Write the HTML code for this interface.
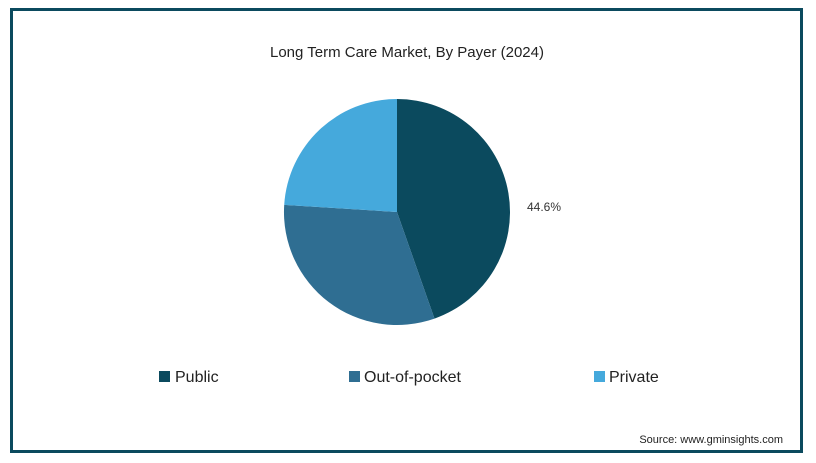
<!DOCTYPE html>
<html><head><style>
body{margin:0;background:#fff;}
svg{display:block;font-family:"Liberation Sans",sans-serif;}
</style></head><body>
<svg width="816" height="463" viewBox="0 0 816 463">
<rect x="11.5" y="9.5" width="790" height="442" fill="#fff" stroke="#0b4a5e" stroke-width="3"/>
<text x="407" y="57" font-size="15" text-anchor="middle" fill="#222">Long Term Care Market, By Payer (2024)</text>
<!-- Public 0 -> 160.6deg -->
<path d="M397,212 L397,99 A113,113 0 0 1 434.5,318.6 Z" fill="#0b4a5e"/>
<!-- Out-of-pocket 160.6 -> 273.6 -->
<path d="M397,212 L434.5,318.6 A113,113 0 0 1 284.2,204.9 Z" fill="#2f6e92"/>
<!-- Private 273.6 -> 360 -->
<path d="M397,212 L284.2,204.9 A113,113 0 0 1 397,99 Z" fill="#45a9dc"/>
<text x="527" y="211" font-size="12" fill="#333">44.6%</text>
<rect x="159" y="371" width="11" height="11" fill="#0b4a5e"/>
<text x="175" y="382" font-size="16" fill="#222">Public</text>
<rect x="349" y="371" width="11" height="11" fill="#2f6e92"/>
<text x="364" y="382" font-size="16" fill="#222">Out-of-pocket</text>
<rect x="594" y="371" width="11" height="11" fill="#45a9dc"/>
<text x="609" y="382" font-size="16" fill="#222">Private</text>
<text x="783" y="443" font-size="11" text-anchor="end" fill="#222">Source: www.gminsights.com</text>
</svg>
</body></html>
